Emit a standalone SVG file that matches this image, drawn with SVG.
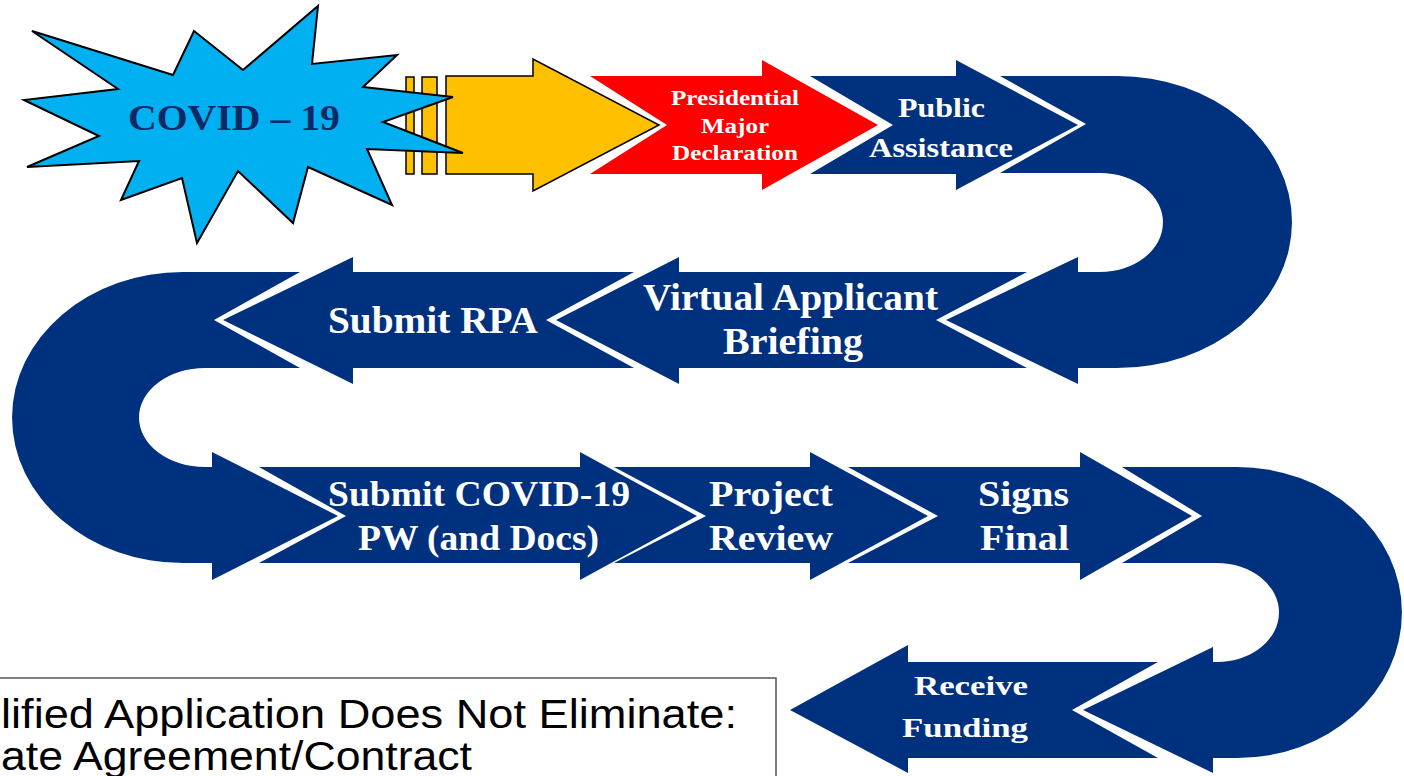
<svg xmlns="http://www.w3.org/2000/svg" width="1404" height="776" viewBox="0 0 1404 776">
<style>
.nv{fill:#00317F;}
.lbl{font-family:"Liberation Serif","Times New Roman",serif;font-weight:bold;fill:#FFFFFF;}
.note{font-family:"Liberation Sans",Arial,sans-serif;fill:#000000;}
</style>
<rect x="0" y="0" width="1404" height="776" fill="#FFFFFF"/>
<g id="connectors">
<path id="uturn-1" class="nv" d="M1000,76 L1117,76 A175,146 0 0 1 1117,368 L1078,368 L1078,384 L946,320 L1078,257 L1078,272 L1100,272 A63,49.5 0 0 0 1100,173 L1000,173 L1086,124 Z"/>
<path id="uturn-2" class="nv" d="M300,272 L183,272 A171,145.5 0 0 0 183,563 L212,563 L212,580 L338,516 L212,452 L212,467 L205,467 A66,49.5 0 0 1 205,368 L300,368 L214,320 Z"/>
<path id="uturn-3" class="nv" d="M1122,467 L1237,467 A165,145.5 0 0 1 1237,758 L1213,758 L1213,773 L1083,710 L1213,647 L1213,662 L1217,662 A62,49.5 0 0 0 1217,563 L1122,563 L1202,516 Z"/>
</g>
<g id="start-arrow">
<rect x="406" y="77" width="8" height="97" fill="#FFC000" stroke="#000" stroke-width="1.5"/>
<rect x="422" y="77" width="15" height="97" fill="#FFC000" stroke="#000" stroke-width="1.5"/>
<polygon points="446,76 533,76 533,59 659,125 533,191 533,174 446,174" fill="#FFC000" stroke="#000" stroke-width="1.5"/>
</g>
<g id="covid">
<polygon points="32,31 173,75 194,31 243,70 318,6 312,64 397,55 363,87 453,97 383,122 463,153 367,149 392,205 308,167 293,223 238,171 197,243 182,178 121,200 139,161 27,167 99,136 24,100 118,89" fill="#00B0F0" stroke="#000" stroke-width="2" stroke-linejoin="miter"/>
<text x="128" y="130" font-family="Liberation Serif,'Times New Roman',serif" font-weight="bold" font-size="36" fill="#0A2A66" textLength="212" lengthAdjust="spacingAndGlyphs">COVID – 19</text>
</g>
<g id="declaration">
<polygon points="590,76 762,76 762,60 878,125 762,190 762,174 590,174 667,125" fill="#FF0000"/>
<text class="lbl" x="671" y="105" font-size="21" textLength="128" lengthAdjust="spacingAndGlyphs">Presidential</text>
<text class="lbl" x="701" y="133" font-size="21" textLength="68" lengthAdjust="spacingAndGlyphs">Major</text>
<text class="lbl" x="672" y="160" font-size="21" textLength="126" lengthAdjust="spacingAndGlyphs">Declaration</text>
</g>
<g id="public-assistance">
<polygon class="nv" points="810,76 956,76 956,60 1078,125 956,190 956,174 810,174 893,125"/>
<text class="lbl" x="898" y="117" font-size="28" textLength="87" lengthAdjust="spacingAndGlyphs">Public</text>
<text class="lbl" x="869" y="157" font-size="28" textLength="144" lengthAdjust="spacingAndGlyphs">Assistance</text>
</g>
<g id="virtual-briefing">
<polygon class="nv" points="1027,272 679,272 679,257 556,320 679,384 679,368 1027,368 936,320"/>
<text class="lbl" x="643" y="310" font-size="37" textLength="295" lengthAdjust="spacingAndGlyphs">Virtual Applicant</text>
<text class="lbl" x="723" y="354" font-size="37" textLength="140" lengthAdjust="spacingAndGlyphs">Briefing</text>
</g>
<g id="submit-rpa">
<polygon class="nv" points="634,272 353,272 353,257 223,320 353,384 353,368 634,368 546,320"/>
<text class="lbl" x="328" y="333" font-size="37" textLength="210" lengthAdjust="spacingAndGlyphs">Submit RPA</text>
</g>
<g id="submit-pw">
<polygon class="nv" points="259,467 580,467 580,452 697,516 580,580 580,563 259,563 346,516"/>
<text class="lbl" x="328" y="506" font-size="36" textLength="302" lengthAdjust="spacingAndGlyphs">Submit COVID-19</text>
<text class="lbl" x="358" y="550" font-size="36" textLength="241" lengthAdjust="spacingAndGlyphs">PW (and Docs)</text>
</g>
<g id="project-review">
<polygon class="nv" points="614,467 810,467 810,452 928,516 810,580 810,563 614,563 706,516"/>
<text class="lbl" x="709" y="506" font-size="36" textLength="124" lengthAdjust="spacingAndGlyphs">Project</text>
<text class="lbl" x="709" y="550" font-size="36" textLength="124" lengthAdjust="spacingAndGlyphs">Review</text>
</g>
<g id="signs-final">
<polygon class="nv" points="848,467 1080,467 1080,452 1192,516 1080,580 1080,563 848,563 938,516"/>
<text class="lbl" x="978" y="506" font-size="36" textLength="91" lengthAdjust="spacingAndGlyphs">Signs</text>
<text class="lbl" x="980" y="550" font-size="36" textLength="89" lengthAdjust="spacingAndGlyphs">Final</text>
</g>
<g id="receive-funding">
<polygon class="nv" points="1158,662 908,662 908,645 790,710 908,773 908,758 1158,758 1072,710"/>
<text class="lbl" x="914" y="695" font-size="28" textLength="114" lengthAdjust="spacingAndGlyphs">Receive</text>
<text class="lbl" x="902" y="737" font-size="28" textLength="126" lengthAdjust="spacingAndGlyphs">Funding</text>
</g>
<g id="note">
<rect x="-4" y="678" width="780" height="110" fill="#FFFFFF" stroke="#555555" stroke-width="1.5"/>
<text class="note" x="1" y="728" font-size="40" textLength="736" lengthAdjust="spacingAndGlyphs">lified Application Does Not Eliminate:</text>
<text class="note" x="1" y="770" font-size="40" textLength="471" lengthAdjust="spacingAndGlyphs">ate Agreement/Contract</text>
</g>
</svg>
